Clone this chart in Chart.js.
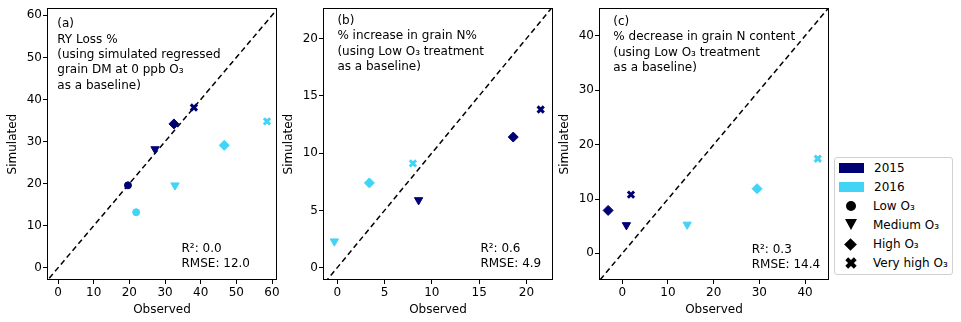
<!DOCTYPE html>
<html>
<head>
<meta charset="utf-8">
<script src="https://cdn.jsdelivr.net/npm/chart.js@4.4.1/dist/chart.umd.min.js"></script>
<style>
  body { margin: 0; background: #fff; font-family: "DejaVu Sans", sans-serif; }
  #wrap { position: relative; width: 961px; height: 322px; overflow: hidden; }
  canvas { position: absolute; top: 0; }
  #legend { position: absolute; left: 834px; top: 157px; width: 117px; height: 116px;
            border: 1px solid #d0d0d0; border-radius: 3px; background: #fff; z-index: 5; font-size: 12px; }
  #legend .lbl { position: absolute; line-height: 14px; white-space: nowrap; color: #000; }
  #legend .sw { position: absolute; }
</style>
</head>
<body>
<div id="wrap">
  <canvas id="chartA" width="292" height="322" style="left:0px"></canvas>
  <canvas id="chartB" width="292" height="322" style="left:276px"></canvas>
  <canvas id="chartC" width="292" height="322" style="left:552px"></canvas>
  <div id="legend"></div>
</div>
<script>
// treatments (marker order)
var treatments = ['Low O₃', 'Medium O₃', 'High O₃', 'Very high O₃'];
var years = ['2015', '2016'];

// (a) RY loss %
var ryObs2015 = [19.6, 27.2, 32.5, 38.1];
var rySim2015 = [19.6, 28.2, 34.2, 38.1];
var ryObs2016 = [21.9, 32.8, 46.6, 58.6];
var rySim2016 = [13.2, 19.6, 29.1, 34.8];

// (b) % increase in grain N%  (low O3 is the baseline -> no point)
var nPctObs2015 = [null, 8.6, 18.6, 21.5];
var nPctSim2015 = [null, 5.9, 11.4, 13.8];
var nPctObs2016 = [null, -0.3, 3.4, 8.0];
var nPctSim2016 = [null, 2.3, 7.4, 9.1];

// (c) % decrease in grain N content
var nContObs2015 = [null, 0.9, -3.1, 1.9];
var nContSim2015 = [null, 5.2, 7.9, 10.8];
var nContObs2016 = [null, 14.2, 29.5, 42.8];
var nContSim2016 = [null, 5.3, 11.9, 17.4];

// axis ticks
var ticksA = [0, 10, 20, 30, 40, 50, 60];
var ticksBx = [0, 5, 10, 15, 20];
var ticksBy = [0, 5, 10, 15, 20];
var ticksCx = [0, 10, 20, 30, 40];
var ticksCy = [0, 10, 20, 30, 40];

var colors = { '2015': '#000075', '2016': '#42d4f4' };
var shapes = ['circle', 'triangle', 'rectRot', 'crossRot'];
var rotations = [0, 180, 0, 0];
var radii = [3.5, 4.8, 5, 4.4];
var borderW = [1, 1, 1, 3];

Chart.defaults.font.family = 'DejaVu Sans';
Chart.defaults.font.size = 12;
Chart.defaults.color = '#000';

// frame + text annotations
var panelPlugin = {
    id: 'panel',
    afterDatasetsDraw: function (chart, args, opts) {
        var ctx = chart.ctx, a = chart.chartArea;
        ctx.save();
        ctx.strokeStyle = '#000';
        ctx.lineWidth = 1;
        ctx.strokeRect(Math.round(a.left) + 0.5, Math.round(a.top) + 0.5,
            Math.round(a.right - a.left) - 1, Math.round(a.bottom - a.top) - 1);
        ctx.fillStyle = '#000';
        ctx.font = '12px "DejaVu Sans"';
        ctx.textBaseline = 'middle';
        ctx.textAlign = 'left';
        opts.lines.forEach(function (t, i) {
            ctx.fillText(t, a.left + opts.tx, a.top + opts.ty + i * 15.3);
        });
        opts.stats.forEach(function (t, i) {
            ctx.fillText(t, a.left + opts.sx, a.top + opts.sy + i * 15.3);
        });
        ctx.restore();
    }
};

function scatterSet(year, obs, sim) {
    return {
        label: year,
        data: obs.map(function (x, i) { return { x: x, y: sim[i] }; }),
        backgroundColor: colors[year],
        borderColor: colors[year],
        pointStyle: shapes,
        rotation: rotations,
        pointRadius: radii,
        pointBorderWidth: borderW,
        pointHoverRadius: radii,
        order: 0
    };
}

function axis(min, max, ticks, title, isX, yWidth) {
    return {
        type: 'linear',
        min: min,
        max: max,
        afterBuildTicks: function (s) { s.ticks = ticks.map(function (v) { return { value: v }; }); },
        afterFit: function (s) { if (isX) { s.height = 42; } else { s.width = yWidth; } },
        grid: { drawOnChartArea: false, drawTicks: true, tickLength: 4, tickColor: '#000', tickWidth: 1 },
        border: { display: false },
        ticks: { padding: isX ? 2 : 1, color: '#000', maxRotation: 0 },
        title: { display: true, text: title, color: '#000',
                 padding: isX ? { top: 0, bottom: 5 } : { top: 6, bottom: 0 } }
    };
}

function makePanel(id, obs15, sim15, obs16, sim16, xr, yr, xt, yt, text) {
    var lo = Math.min(xr[0], yr[0]) - 1, hi = Math.max(xr[1], yr[1]) + 1;
    return new Chart(document.getElementById(id), {
        type: 'scatter',
        data: {
            datasets: [
                {
                    label: '1:1',
                    data: [{ x: lo, y: lo }, { x: hi, y: hi }],
                    showLine: true,
                    borderColor: '#000',
                    borderWidth: 1.5,
                    borderDash: [5.5, 3.5],
                    pointRadius: 0,
                    order: 1
                },
                scatterSet('2015', obs15, sim15),
                scatterSet('2016', obs16, sim16)
            ]
        },
        options: {
            responsive: false,
            animation: false,
            devicePixelRatio: 1,
            layout: { padding: { left: 0, right: 15, top: 8, bottom: 0 } },
            scales: {
                x: axis(xr[0], xr[1], xt, 'Observed', true),
                y: axis(yr[0], yr[1], yt, 'Simulated', false, 47)
            },
            plugins: {
                legend: { display: false },
                tooltip: { enabled: false },
                panel: text
            }
        },
        plugins: [panelPlugin]
    });
}

makePanel('chartA', ryObs2015, rySim2015, ryObs2016, rySim2016,
    [-3.1, 61.4], [-2.9, 61.7], ticksA, ticksA,
    { lines: ['(a)', 'RY Loss %', '(using simulated regressed', 'grain DM at 0 ppb O₃', 'as a baseline)'],
      tx: 10.3, ty: 16, stats: ['R²: 0.0', 'RMSE: 12.0'], sx: 134.5, sy: 240.5 });

makePanel('chartB', nPctObs2015, nPctSim2015, nPctObs2016, nPctSim2016,
    [-1.5, 22.8], [-1.07, 22.64], ticksBx, ticksBy,
    { lines: ['(b)', '% increase in grain N%', '(using Low O₃ treatment', 'as a baseline)'],
      tx: 14.4, ty: 12.7, stats: ['R²: 0.6', 'RMSE: 4.9'], sx: 157.4, sy: 240.5 });

makePanel('chartC', nContObs2015, nContSim2015, nContObs2016, nContSim2016,
    [-5.1, 45.25], [-4.9, 45.1], ticksCx, ticksCy,
    { lines: ['(c)', '% decrease in grain N content', '(using Low O₃ treatment', 'as a baseline)'],
      tx: 14.3, ty: 13.7, stats: ['R²: 0.3', 'RMSE: 14.4'], sx: 152.7, sy: 241.5 });

// legend (years as colour patches, treatments as black markers)
var leg = document.getElementById('legend');
var html = '';
years.forEach(function (y, i) {
    var cy = 9.5 + i * 19;
    html += '<div class="sw" style="left:4px;top:' + (cy - 5) + 'px;width:25px;height:10px;background:' + colors[y] + '"></div>';
    html += '<div class="lbl" style="left:39px;top:' + (cy - 7) + 'px">' + y + '</div>';
});
var markerCss = [
    'left:11px;width:10px;height:10px;border-radius:50%;background:#000;margin-top:-5px',
    'left:10px;width:0;height:0;border-left:6px solid transparent;border-right:6px solid transparent;border-top:11px solid #000;margin-top:-6px',
    'left:11px;width:9px;height:9px;background:#000;transform:rotate(45deg);margin-top:-4.5px',
    ''
];
treatments.forEach(function (t, i) {
    var cy = 48 + i * 19;
    if (i < 3) {
        html += '<div class="sw" style="top:' + cy + 'px;' + markerCss[i] + '"></div>';
    } else {
        html += '<div class="sw" style="left:10px;top:' + (cy - 2) + 'px;width:12px;height:4px;background:#000;transform:rotate(45deg)"></div>';
        html += '<div class="sw" style="left:10px;top:' + (cy - 2) + 'px;width:12px;height:4px;background:#000;transform:rotate(-45deg)"></div>';
    }
    html += '<div class="lbl" style="left:38px;top:' + (cy - 7) + 'px">' + t + '</div>';
});
leg.innerHTML = html;
</script>
</body>
</html>
